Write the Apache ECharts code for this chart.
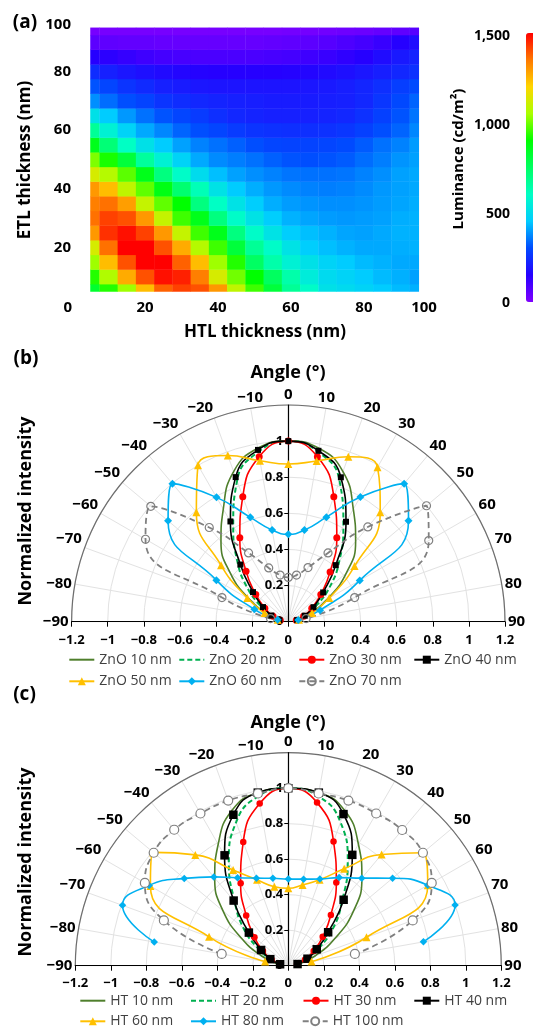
<!DOCTYPE html>
<html>
<head>
<meta charset="utf-8">
<title>Luminance map and angular emission</title>
<script src="https://cdn.jsdelivr.net/npm/echarts@6.0.0/dist/echarts.min.js"></script>
<style>
  html, body { margin: 0; padding: 0; background: #fff; }
  #chart { width: 533px; height: 1028px; }
</style>
</head>
<body>
<div id="chart"></div>
<script>
// (a) luminance map: columns = HTL thickness, rows = ETL thickness (bottom row first)
const htl = [5, 10, 15, 20, 25, 30, 35, 40, 45, 50, 55, 60, 65, 70, 75, 80, 85, 90, 95]
const etl = [5, 10, 15, 20, 25, 30, 35, 40, 45, 50, 55, 60, 65, 70, 75, 80, 85, 90, 95]
const luminance = [
  [830, 930, 1040, 1240, 1380, 1420, 1400, 1300, 1085, 955, 810, 670, 590, 510, 490, 470, 450, 430, 418],
  [930, 1060, 1270, 1400, 1480, 1460, 1340, 1125, 1000, 900, 755, 640, 545, 490, 470, 450, 430, 418, 400],
  [1040, 1240, 1400, 1500, 1500, 1380, 1240, 1040, 930, 750, 640, 560, 510, 470, 450, 430, 420, 410, 410],
  [1125, 1360, 1500, 1500, 1400, 1270, 1070, 955, 810, 670, 590, 515, 455, 435, 420, 410, 410, 415, 420],
  [1300, 1440, 1480, 1420, 1300, 1095, 955, 860, 705, 590, 515, 455, 435, 420, 405, 400, 410, 420, 420],
  [1360, 1420, 1400, 1300, 1095, 955, 860, 705, 590, 515, 455, 420, 405, 395, 390, 395, 400, 415, 420],
  [1340, 1360, 1290, 1095, 985, 900, 705, 600, 515, 455, 415, 395, 385, 380, 380, 385, 395, 405, 415],
  [1300, 1240, 1085, 985, 870, 730, 620, 515, 450, 415, 390, 375, 365, 360, 365, 375, 390, 400, 410],
  [1125, 1070, 980, 860, 705, 590, 495, 435, 400, 380, 365, 350, 345, 345, 350, 365, 380, 400, 410],
  [1010, 920, 810, 660, 560, 470, 410, 375, 360, 345, 325, 310, 305, 310, 320, 340, 360, 385, 400],
  [860, 720, 600, 510, 450, 400, 365, 345, 325, 305, 290, 285, 285, 290, 300, 320, 345, 365, 395],
  [670, 560, 470, 410, 370, 330, 305, 290, 270, 255, 250, 245, 245, 250, 260, 280, 305, 330, 370],
  [510, 450, 390, 345, 310, 290, 270, 245, 230, 220, 215, 215, 215, 220, 230, 250, 280, 310, 350],
  [380, 340, 305, 285, 255, 240, 230, 220, 215, 210, 205, 205, 205, 210, 215, 230, 260, 295, 330],
  [310, 290, 255, 235, 215, 205, 195, 190, 190, 190, 190, 190, 195, 200, 210, 225, 245, 275, 300],
  [240, 215, 195, 180, 170, 160, 155, 150, 150, 150, 150, 155, 160, 170, 180, 195, 210, 230, 250],
  [150, 140, 125, 110, 100, 95, 90, 90, 90, 90, 95, 100, 110, 120, 135, 150, 175, 200, 220],
  [60, 55, 50, 50, 45, 45, 45, 45, 45, 45, 50, 55, 60, 70, 85, 100, 120, 150, 175],
  [15, 15, 15, 15, 15, 15, 15, 15, 15, 15, 15, 20, 20, 25, 30, 35, 45, 55, 70]
]

// (b), (c) angular profiles, angle in degrees
const angles = [-80, -70, -60, -50, -40, -30, -20, -10, 0, 10, 20, 30, 40, 50, 60, 70, 80]

const znoNames = ['ZnO 10 nm', 'ZnO 20 nm', 'ZnO 30 nm', 'ZnO 40 nm', 'ZnO 50 nm', 'ZnO 60 nm', 'ZnO 70 nm']
const zno10 = [0.055, 0.13, 0.25, 0.42, 0.58, 0.72, 0.885, 0.975, 1.0, 0.975, 0.885, 0.72, 0.58, 0.42, 0.25, 0.13, 0.055]
const zno20 = [0.05, 0.10, 0.18, 0.30, 0.44, 0.61, 0.83, 0.955, 1.0, 0.955, 0.83, 0.61, 0.44, 0.30, 0.18, 0.10, 0.05]
const zno30 = [0.045, 0.09, 0.15, 0.235, 0.364, 0.537, 0.737, 0.928, 1.0, 0.928, 0.737, 0.537, 0.36, 0.235, 0.15, 0.09, 0.045]
const zno40 = [0.05, 0.10, 0.162, 0.255, 0.413, 0.641, 0.852, 0.966, 1.0, 0.961, 0.851, 0.639, 0.409, 0.252, 0.161, 0.097, 0.05]
const zno50 = [0.06, 0.14, 0.262, 0.486, 0.792, 1.0, 0.979, 0.905, 0.873, 0.904, 0.972, 0.988, 0.792, 0.479, 0.262, 0.14, 0.06]
const zno60 = [0.06, 0.2, 0.46, 0.869, 0.998, 0.795, 0.615, 0.515, 0.484, 0.515, 0.616, 0.798, 0.998, 0.869, 0.457, 0.187, 0.056]
const zno70 = [0.10, 0.391, 0.913, 0.994, 0.681, 0.44, 0.317, 0.262, 0.245, 0.262, 0.319, 0.44, 0.685, 0.999, 0.898, 0.391, 0.10]

const htNames = ['HT 10 nm', 'HT 20 nm', 'HT 30 nm', 'HT 40 nm', 'HT 60 nm', 'HT 80 nm', 'HT 100 nm']
const ht10 = [0.065, 0.16, 0.30, 0.48, 0.645, 0.79, 0.93, 0.99, 1.0, 0.99, 0.93, 0.79, 0.645, 0.48, 0.30, 0.16, 0.065]
const ht20 = [0.05, 0.11, 0.20, 0.33, 0.47, 0.67, 0.86, 0.97, 1.0, 0.97, 0.86, 0.67, 0.47, 0.33, 0.20, 0.11, 0.05]
const ht30 = [0.05, 0.10, 0.165, 0.249, 0.369, 0.537, 0.742, 0.928, 1.0, 0.933, 0.745, 0.541, 0.373, 0.253, 0.165, 0.10, 0.05]
const ht40 = [0.047, 0.108, 0.177, 0.29, 0.479, 0.718, 0.905, 0.99, 1.0, 0.99, 0.909, 0.721, 0.485, 0.293, 0.185, 0.115, 0.053]
const ht60 = [0.133, 0.475, 0.897, 0.993, 0.815, 0.622, 0.515, 0.452, 0.436, 0.462, 0.515, 0.63, 0.818, 0.99, 0.907, 0.469, 0.133]
const ht80 = [0.767, 0.994, 0.905, 0.765, 0.653, 0.572, 0.525, 0.50, 0.488, 0.495, 0.52, 0.573, 0.644, 0.767, 0.907, 1.0, 0.773]
const ht100 = [0.381, 0.746, 0.933, 0.99, 1.0, 0.99, 0.99, 0.985, 1.0, 0.985, 0.99, 0.99, 0.998, 0.99, 0.933, 0.746, 0.381]

const lumTicks = [0, 500, 1000, 1500]

const FONT = '"Open Sans", "DejaVu Sans", sans-serif'
const bold = size => ({ fontFamily: FONT, fontWeight: 'bold', fontSize: size, color: '#000' })
const signed = v => {
  const n = Math.round(v * 10) / 10
  return (n < 0 ? '\u2212' : '') + Math.abs(n)
}

const heatData = []
etl.forEach((e, j) => htl.forEach((h, i) => heatData.push([h, e, luminance[j][i]])))

const polarB = { center: [288.3, 621.7], radius: 216.7 }
const polarC = { center: [288.3, 965.7], radius: 213 }

const lineStyles = [
  { symbol: 'none', color: '#4f7f2c', width: 1.6 },
  { symbol: 'none', color: '#00b050', width: 2, dash: [5, 3] },
  { symbol: 'circle', color: '#ff0000', width: 1.6, size: 7 },
  { symbol: 'rect', color: '#000000', width: 1.6, size: 6 },
  { symbol: 'triangle', color: '#ffc000', width: 1.6, size: 8 },
  { symbol: 'diamond', color: '#00b0f0', width: 1.6, size: 8 },
  { symbol: 'circle', color: '#808080', width: 1.8, size: 8, dash: [6, 4], fill: 'rgba(255,255,255,0)' }
]

function polarLine (name, values, st, polarIndex, size) {
  const plain = st.symbol === 'none'
  return {
    name,
    type: 'line',
    coordinateSystem: 'polar',
    polarIndex,
    data: angles.map((a, i) => [values[i], a]),
    smooth: 0.5,
    symbol: plain ? 'circle' : st.symbol,
    symbolSize: size || st.size || 6,
    showSymbol: !plain,
    lineStyle: { color: st.color, width: st.width, type: st.dash || 'solid' },
    itemStyle: plain
      ? { color: st.color, opacity: 0 }
      : st.fill ? { color: st.fill, borderColor: st.color, borderWidth: 1.2 } : { color: st.color },
    emphasis: { disabled: true }
  }
}

function overlayGrid (p) {
  return { left: p.center[0] - p.radius, top: p.center[1] - p.radius, width: 2 * p.radius, height: p.radius }
}

function angleAxis (polarIndex) {
  return {
    polarIndex,
    type: 'value',
    min: -90,
    max: 90,
    interval: 10,
    startAngle: 180,
    endAngle: 0,
    clockwise: true,
    axisLine: { lineStyle: { color: '#6e6e6e', width: 1.2 } },
    axisTick: { show: false },
    axisLabel: { ...bold(15), margin: 3, formatter: signed },
    splitLine: { lineStyle: { color: '#e2e2e2', width: 1 } }
  }
}

function radiusAxis (polarIndex) {
  return {
    polarIndex,
    type: 'value',
    min: 0,
    max: 1.2,
    interval: 0.2,
    axisLine: { show: false },
    axisTick: { show: false },
    axisLabel: { show: false },
    splitLine: { lineStyle: { color: '#e2e2e2', width: 1 } }
  }
}

function overlayX (gridIndex, margin) {
  return {
    gridIndex,
    type: 'value',
    min: -1.2,
    max: 1.2,
    interval: 0.2,
    axisLine: { onZero: false, lineStyle: { color: '#000', width: 1.2 } },
    axisTick: { length: 5, lineStyle: { color: '#000' } },
    axisLabel: { ...bold(13), margin, showMinLabel: true, showMaxLabel: true, formatter: signed },
    splitLine: { show: false }
  }
}

function overlayY (gridIndex, p) {
  return {
    gridIndex,
    type: 'value',
    position: 'left',
    offset: -p.radius,
    min: 0,
    max: 1.2,
    interval: 0.2,
    axisLine: { onZero: false, lineStyle: { color: '#000', width: 1.2 } },
    axisTick: { length: 4, lineStyle: { color: '#000' } },
    axisLabel: { ...bold(13), margin: 5, showMaxLabel: false, formatter: signed },
    splitLine: { show: false }
  }
}

function legendItem (name, left, centerY) {
  return {
    left,
    top: centerY - 7,
    padding: 0,
    itemWidth: 25,
    itemHeight: 10,
    selectedMode: false,
    data: [name],
    textStyle: { fontFamily: FONT, fontSize: 14, color: '#404040', lineHeight: 14 }
  }
}

function label (text, x, y, size, rotate) {
  return {
    type: 'text',
    x,
    y,
    rotation: rotate ? Math.PI / 2 : 0,
    style: { text, align: 'center', verticalAlign: 'middle', fontFamily: FONT, fontWeight: 'bold', fontSize: size, fill: '#000' }
  }
}

const chart = echarts.init(document.getElementById('chart'))

const option = {
  animation: false,
  backgroundColor: '#fff',
  grid: [
    { left: 72, top: 12.9, width: 364.9, height: 293.1 },
    { left: 512, top: 36, width: 2, height: 267 },
    overlayGrid(polarB),
    overlayGrid(polarC)
  ],
  xAxis: [
    {
      gridIndex: 0,
      type: 'value',
      min: 0,
      max: 100,
      interval: 20,
      axisLine: { show: false },
      axisTick: { show: false },
      splitLine: { show: false },
      axisLabel: { ...bold(15), margin: -6, alignMinLabel: 'right', alignMaxLabel: 'right' }
    },
    { gridIndex: 1, type: 'value', show: false },
    overlayX(2, 12),
    overlayX(3, 11)
  ],
  yAxis: [
    {
      gridIndex: 0,
      type: 'value',
      min: 0,
      max: 100,
      interval: 20,
      axisLine: { show: false },
      axisTick: { show: false },
      splitLine: { show: false },
      axisLabel: { ...bold(15), margin: 1, showMinLabel: false, verticalAlignMaxLabel: 'top', padding: [4, 0, 0, 0] }
    },
    {
      gridIndex: 1,
      type: 'value',
      min: lumTicks[0],
      max: lumTicks[lumTicks.length - 1],
      interval: 500,
      axisLine: { show: false },
      axisTick: { show: false },
      splitLine: { show: false },
      axisLabel: { ...bold(14), margin: 2, formatter: v => v.toLocaleString('en-US') }
    },
    overlayY(2, polarB),
    overlayY(3, polarC)
  ],
  polar: [
    { center: polarB.center, radius: polarB.radius },
    { center: polarC.center, radius: polarC.radius }
  ],
  angleAxis: [angleAxis(0), angleAxis(1)],
  radiusAxis: [radiusAxis(0), radiusAxis(1)],
  visualMap: {
    type: 'continuous',
    seriesIndex: 0,
    dimension: 2,
    min: 0,
    max: 1500,
    calculable: false,
    hoverLink: false,
    orient: 'vertical',
    left: 526,
    top: 33,
    itemWidth: 14,
    itemHeight: 269,
    padding: 0,
    inRange: {
      color: ['#8000ff', '#2600ff', '#004aff', '#00ccff', '#00ffc4', '#00ff62', '#00ff00', '#aaff00', '#ffd600', '#ff7900', '#ff0000']
    }
  },
  legend: [
    legendItem(znoNames[0], 68.3, 659.7),
    legendItem(znoNames[1], 178.3, 659.7),
    legendItem(znoNames[2], 298.3, 659.7),
    legendItem(znoNames[3], 413.3, 659.7),
    legendItem(znoNames[4], 68.3, 681.3),
    legendItem(znoNames[5], 178.3, 681.3),
    legendItem(znoNames[6], 298.3, 681.3),
    legendItem(htNames[0], 79.3, 1000.7),
    legendItem(htNames[1], 190, 1000.7),
    legendItem(htNames[2], 302.5, 1000.7),
    legendItem(htNames[3], 413.3, 1000.7),
    legendItem(htNames[4], 79.3, 1021.3),
    legendItem(htNames[5], 190, 1021.3),
    legendItem(htNames[6], 301.7, 1021.3)
  ],
  graphic: [
    label('(a)', 25, 23, 19),
    label('ETL thickness (nm)', 25.5, 160, 17, true),
    label('HTL thickness (nm)', 265, 332, 17),
    label('Luminance (cd/m\u00b2)', 459, 159, 15, true),
    label('(b)', 26, 359, 19),
    label('Angle (\u00b0)', 288, 373, 18),
    label('Normalized intensity', 25.5, 511, 18, true),
    label('(c)', 24.5, 695, 19),
    label('Angle (\u00b0)', 288, 723, 18),
    label('Normalized intensity', 25.5, 862, 18, true)
  ],
  series: [
    {
      type: 'custom',
      xAxisIndex: 0,
      yAxisIndex: 0,
      data: heatData,
      encode: { x: 0, y: 1 },
      renderItem: function (params, api) {
        const x = api.value(0)
        const y = api.value(1)
        const p0 = api.coord([Math.max(x - 2.5, htl[0]), Math.min(y + 2.5, etl[etl.length - 1])])
        const p1 = api.coord([Math.min(x + 2.5, htl[htl.length - 1]), Math.max(y - 2.5, etl[0])])
        return {
          type: 'rect',
          shape: { x: p0[0], y: p0[1], width: p1[0] - p0[0] + 0.4, height: p1[1] - p0[1] + 0.4 },
          style: { fill: api.visual('color') }
        }
      }
    },
    polarLine(znoNames[0], zno10, lineStyles[0], 0),
    polarLine(znoNames[1], zno20, lineStyles[1], 0),
    polarLine(znoNames[2], zno30, lineStyles[2], 0),
    polarLine(znoNames[3], zno40, lineStyles[3], 0),
    polarLine(znoNames[4], zno50, lineStyles[4], 0),
    polarLine(znoNames[5], zno60, lineStyles[5], 0),
    polarLine(znoNames[6], zno70, lineStyles[6], 0),
    polarLine(htNames[0], ht10, lineStyles[0], 1),
    polarLine(htNames[1], ht20, lineStyles[1], 1),
    polarLine(htNames[2], ht30, lineStyles[2], 1, 6.5),
    polarLine(htNames[3], ht40, lineStyles[3], 1, 8.5),
    polarLine(htNames[4], ht60, lineStyles[4], 1, 8),
    polarLine(htNames[5], ht80, lineStyles[5], 1, 7.5),
    polarLine(htNames[6], ht100, { ...lineStyles[6], width: 1.8, fill: '#ffffff' }, 1, 9)
  ]
}

chart.setOption(option)
</script>
</body>
</html>
